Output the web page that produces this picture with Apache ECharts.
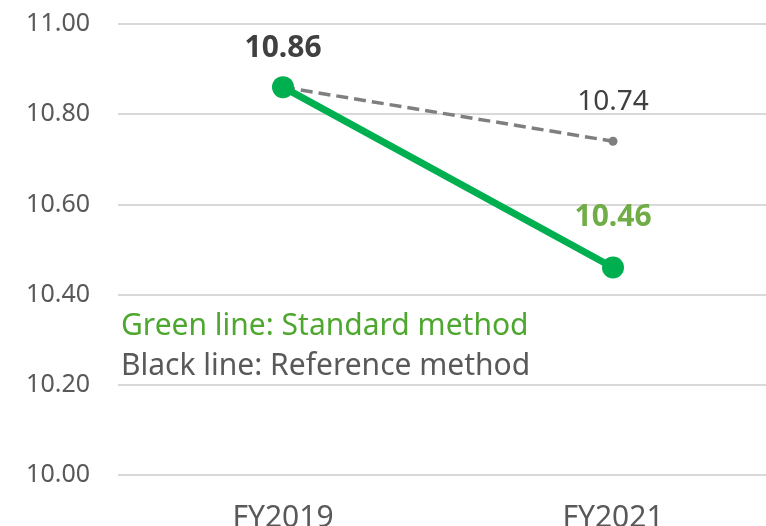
<!DOCTYPE html>
<html><head><meta charset="utf-8">
<script src="https://cdn.jsdelivr.net/npm/echarts@6/dist/echarts.min.js"></script>
<style>html,body{margin:0;padding:0;background:#fff}#c{width:766px;height:526px}</style>
</head><body><div id="c"></div>
<script>
const categories = ['FY2019', 'FY2021'];
const standardValues = [10.86, 10.46];
const referenceValues = [10.86, 10.74];
const yTickLabels = ['10.00', '10.20', '10.40', '10.60', '10.80', '11.00'];
const legendLines = ['Green line: Standard method', 'Black line: Reference method'];

const FONT = '"Noto Sans", "Open Sans", sans-serif';
const chart = echarts.init(document.getElementById('c'), null, {renderer: 'canvas'});
chart.setOption({
  animation: false,
  backgroundColor: '#ffffff',
  grid: {left: 118, width: 660, top: 24, height: 451, containLabel: false, outerBoundsMode: 'none'},
  xAxis: {
    type: 'category', data: categories, boundaryGap: true,
    axisLine: {show: false}, axisTick: {show: false},
    axisLabel: {color: '#595959', fontSize: 30, fontFamily: FONT, margin: 28}
  },
  yAxis: {
    type: 'value', min: 10.0, max: 11.0, interval: 0.2,
    axisLine: {show: false}, axisTick: {show: false},
    splitLine: {lineStyle: {color: '#d9d9d9', width: 2}},
    axisLabel: {color: '#595959', fontSize: 25, fontFamily: FONT, margin: 28,
      formatter: v => yTickLabels[Math.round((v - 10) / 0.2)] || v.toFixed(2)}
  },
  graphic: [
    {type: 'text', left: 121, top: 311, style: {text: legendLines[0], fill: '#4ea72e', font: '30px ' + FONT}},
    {type: 'text', left: 121, top: 351, style: {text: legendLines[1], fill: '#595959', font: '30px ' + FONT}}
  ],
  series: [
    {
      type: 'line', data: referenceValues, z: 2,
      lineStyle: {color: '#7f7f7f', width: 3.5, type: [12, 6]},
      itemStyle: {color: '#7f7f7f'}, symbol: 'circle', symbolSize: 9,
      label: {show: true, position: 'top', distance: 21, color: '#404040', fontSize: 28, fontFamily: FONT,
        formatter: p => p.dataIndex === 0 ? '' : p.value.toFixed(2)}
    },
    {
      type: 'line', data: standardValues.map((v, i) => ({value: v,
        label: i === 0 ? {color: '#404040', distance: 13} : {color: '#70ad47', distance: 24}})), z: 3,
      lineStyle: {color: '#00b050', width: 7},
      itemStyle: {color: '#00b050'}, symbol: 'circle', symbolSize: 22,
      label: {show: true, position: 'top', fontSize: 30, fontWeight: 'bold', fontFamily: FONT,
        formatter: p => p.value.toFixed(2)}
    }
  ]
});
</script></body></html>
